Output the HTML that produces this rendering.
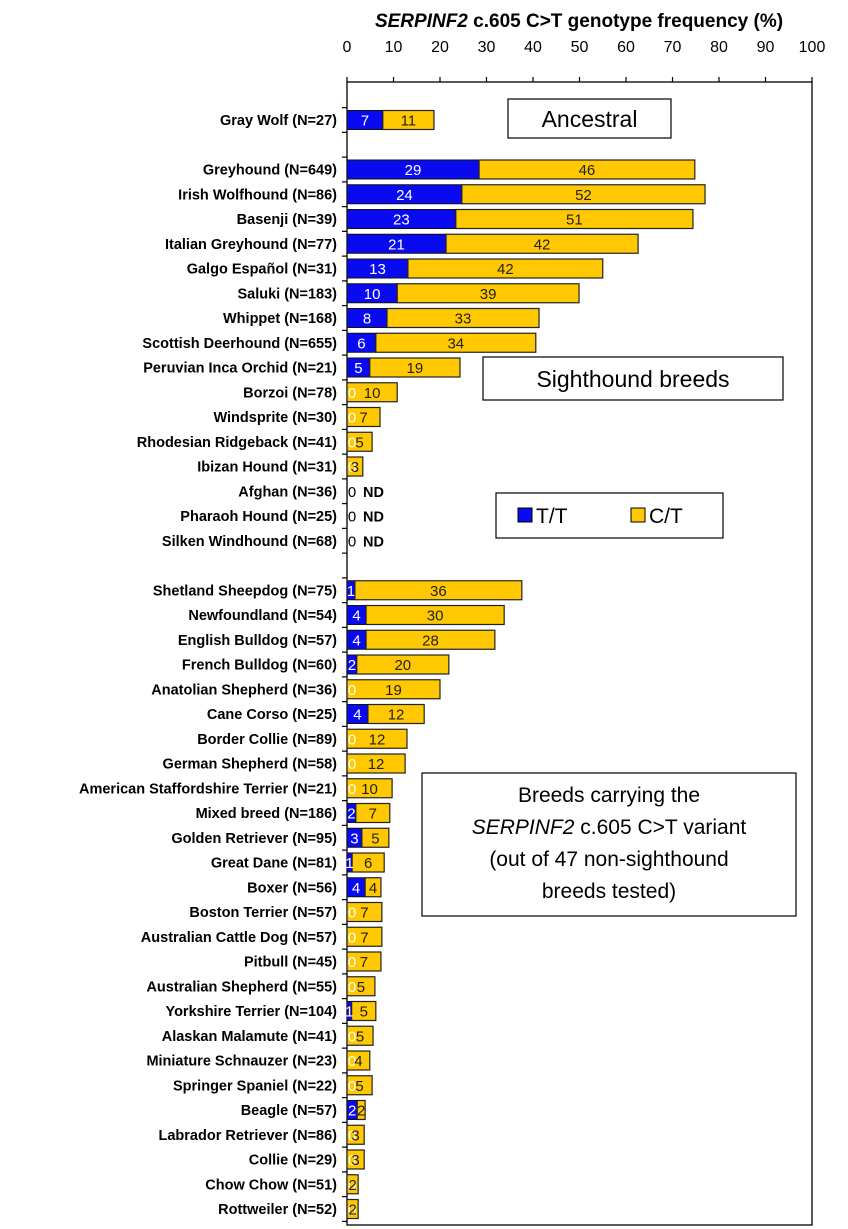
<!DOCTYPE html>
<html><head><meta charset="utf-8"><style>
html,body{margin:0;padding:0;background:#fff;}
svg{display:block;font-family:"Liberation Sans",sans-serif;}
</style></head><body>
<svg id="chart" width="848" height="1229" viewBox="0 0 848 1229" xmlns="http://www.w3.org/2000/svg">
<text x="579" y="27" text-anchor="middle" font-size="19" font-weight="bold"><tspan font-style="italic">SERPINF2</tspan> c.605 C&gt;T genotype frequency (%)</text>
<g id="axes"></g>
<g id="bars"></g>
<g><rect x="508" y="99" width="163" height="39" fill="#fff" stroke="#000" stroke-width="1.2"/><text x="589.5" y="127" text-anchor="middle" font-size="23">Ancestral</text></g>
<g><rect x="483" y="357" width="300" height="43" fill="#fff" stroke="#000" stroke-width="1.2"/><text x="633" y="387" text-anchor="middle" font-size="23">Sighthound breeds</text></g>
<g><rect x="496" y="493" width="227" height="45" fill="#fff" stroke="#000" stroke-width="1.2"/>
<rect x="518" y="508" width="14" height="14" fill="#0a0af0" stroke="#000"/><text x="536" y="523" font-size="21">T/T</text>
<rect x="631" y="508" width="14" height="14" fill="#ffc800" stroke="#000"/><text x="649" y="523" font-size="21">C/T</text></g>
<g><rect x="422" y="773" width="374" height="143" fill="#fff" stroke="#000" stroke-width="1.2"/>
<text x="609" y="802" text-anchor="middle" font-size="21">Breeds carrying the</text>
<text x="609" y="834" text-anchor="middle" font-size="21"><tspan font-style="italic">SERPINF2</tspan> c.605 C&gt;T variant</text>
<text x="609" y="866" text-anchor="middle" font-size="21">(out of 47 non-sighthound</text>
<text x="609" y="898" text-anchor="middle" font-size="21">breeds tested)</text></g>
</svg>
<script>
const categories=["Gray Wolf (N=27)","Greyhound (N=649)","Irish Wolfhound (N=86)","Basenji (N=39)","Italian Greyhound (N=77)","Galgo Español (N=31)","Saluki (N=183)","Whippet (N=168)","Scottish Deerhound (N=655)","Peruvian Inca Orchid (N=21)","Borzoi (N=78)","Windsprite (N=30)","Rhodesian Ridgeback (N=41)","Ibizan Hound (N=31)","Afghan (N=36)","Pharaoh Hound (N=25)","Silken Windhound (N=68)","Shetland Sheepdog (N=75)","Newfoundland (N=54)","English Bulldog (N=57)","French Bulldog (N=60)","Anatolian Shepherd (N=36)","Cane Corso (N=25)","Border Collie (N=89)","German Shepherd (N=58)","American Staffordshire Terrier (N=21)","Mixed breed (N=186)","Golden Retriever (N=95)","Great Dane (N=81)","Boxer (N=56)","Boston Terrier (N=57)","Australian Cattle Dog (N=57)","Pitbull (N=45)","Australian Shepherd (N=55)","Yorkshire Terrier (N=104)","Alaskan Malamute (N=41)","Miniature Schnauzer (N=23)","Springer Spaniel (N=22)","Beagle (N=57)","Labrador Retriever (N=86)","Collie (N=29)","Chow Chow (N=51)","Rottweiler (N=52)"];
const slots=[0,2,3,4,5,6,7,8,9,10,11,12,13,14,15,16,17,19,20,21,22,23,24,25,26,27,28,29,30,31,32,33,34,35,36,37,38,39,40,41,42,43,44];
const ttValues=[7.7,28.4,24.7,23.4,21.3,13.1,10.8,8.6,6.2,4.9,0,0,0,0,0,0,0,1.7,4.1,4.1,2.1,0,4.5,0,0,0,1.9,3.2,1.1,3.9,0,0,0,0,1,0,0,0,2.2,0,0,0,0];
const ctValues=[11,46.4,52.3,51,41.3,41.9,39.1,32.7,34.4,19.4,10.8,7.1,5.4,3.4,0,0,0,35.9,29.7,27.7,19.8,20,12.1,12.9,12.5,9.7,7.3,5.8,6.9,3.4,7.5,7.5,7.3,6,5.2,5.6,4.9,5.4,1.7,3.7,3.7,2.4,2.4];
const ttLabels=["7","29","24","23","21","13","10","8","6","5","0","0","0","0","0","0","0","1","4","4","2","0","4","0","0","0","2","3","1","4","0","0","0","0","1","0","0","0","2","0","0","0","0"];
const ctLabels=["11","46","52","51","42","42","39","33","34","19","10","7","5","3","ND","ND","ND","36","30","28","20","19","12","12","12","10","7","5","6","4","7","7","7","5","5","5","4","5","2","3","3","2","2"];
const xTicks=[0,10,20,30,40,50,60,70,80,90,100];
const NS="http://www.w3.org/2000/svg";
const X0=347,X1=812,Y0=82,Y1=1225,ROW0=120,STEP=24.75,BH=19;
const xs=v=>X0+(X1-X0)*v/100;
const ys=s=>ROW0+s*STEP;
function mk(tag,attrs,parent,txt){const e=document.createElementNS(NS,tag);for(const k in attrs)e.setAttribute(k,attrs[k]);if(txt!==undefined)e.textContent=txt;parent.appendChild(e);return e;}
const axes=document.getElementById('axes'),bars=document.getElementById('bars');
let e=mk('rect',{x:X0,y:Y0,width:X1-X0,height:Y1-Y0,fill:'none',stroke:'#000','stroke-width':1.3},axes);


xTicks.forEach(t=>{
  let l=mk('line',{x1:xs(t),x2:xs(t),y1:Y0-5,y2:Y0,stroke:'#000','stroke-width':1.2},axes);
  
  
  let tx=mk('text',{x:xs(t),y:52,'text-anchor':'middle','font-size':16},axes,String(t));
  
  
});
for(let s=0;s<=45;s++){
  let l=mk('line',{x1:X0-5,x2:X0,y1:ys(s)-STEP/2,y2:ys(s)-STEP/2,stroke:'#000','stroke-width':1.2},axes);
  
  
}
categories.forEach((c,i)=>{
  const y=ys(slots[i]);
  let t=mk('text',{x:337,y:y+5,'text-anchor':'end','font-size':14.5,'font-weight':'bold'},axes,c);
  
  
  const tt=ttValues[i],ct=ctValues[i];
  if(tt>0){
    let r=mk('rect',{x:xs(0),y:y-BH/2,width:xs(tt)-xs(0),height:BH,fill:'#0a0af0',stroke:'#111','stroke-width':1},bars);
    
    
  }
  if(ct>0){
    let r=mk('rect',{x:xs(tt),y:y-BH/2,width:xs(tt+ct)-xs(tt),height:BH,fill:'#ffc800',stroke:'#222','stroke-width':1.2},bars);
    
    
  }
  const nd=ctLabels[i]==='ND';
  const ttx=tt>0?(xs(0)+xs(tt))/2:xs(0)+5;
  let a=mk('text',{x:ttx,y:y+5.5,'text-anchor':'middle','font-size':15,fill:nd?'#000':'#fff'},bars,ttLabels[i]);
  
  
  if(nd){
    let b=mk('text',{x:363,y:y+5.5,'font-size':14.5,'font-weight':'bold'},bars,'ND');
    
    
  }else{
    let b=mk('text',{x:(xs(tt)+xs(tt+ct))/2,y:y+5.5,'text-anchor':'middle','font-size':15,fill:'#222'},bars,ctLabels[i]);
    
    
  }
});
</script>
</body></html>
